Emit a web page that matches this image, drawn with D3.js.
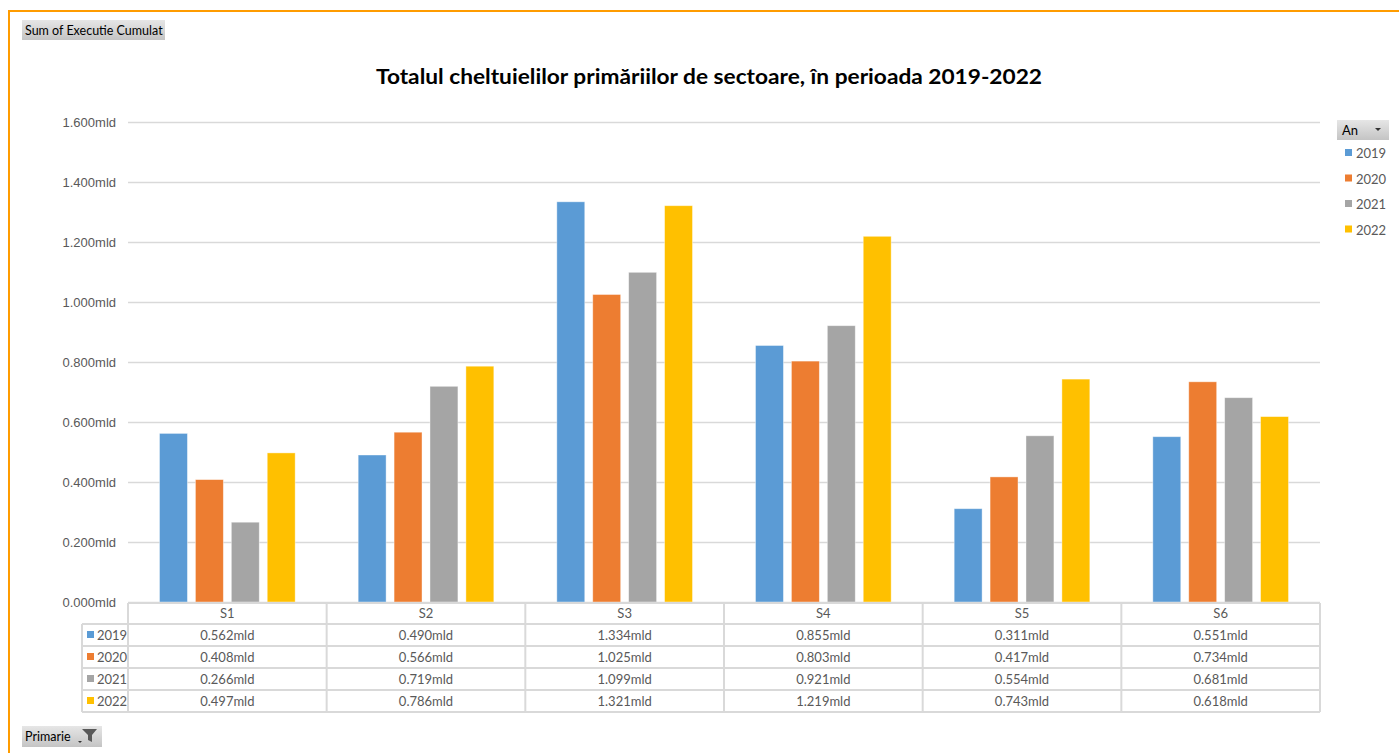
<!DOCTYPE html>
<html>
<head>
<meta charset="utf-8">
<script src="https://cdn.jsdelivr.net/npm/d3@7"></script>
<style>
  body { margin: 0; background: #fff; }
  svg { display: block; font-family: Lato, "Open Sans", sans-serif; }
</style>
</head>
<body>
<svg width="1399" height="753"></svg>
<script>
const svg = d3.select('svg');

// the data
const sectors = ['S1', 'S2', 'S3', 'S4', 'S5', 'S6'];
const years = ['2019', '2020', '2021', '2022'];
const colors = ['#5b9bd5', '#ed7d31', '#a5a5a5', '#ffc000'];
const v2019 = [0.562, 0.490, 1.334, 0.855, 0.311, 0.551];
const v2020 = [0.408, 0.566, 1.025, 0.803, 0.417, 0.734];
const v2021 = [0.266, 0.719, 1.099, 0.921, 0.554, 0.681];
const v2022 = [0.497, 0.786, 1.321, 1.219, 0.743, 0.618];
const yTicks = [0, 0.2, 0.4, 0.6, 0.8, 1.0, 1.2, 1.4, 1.6];

const series = [v2019, v2020, v2021, v2022];
const fmt = d => d3.format('.3f')(d) + 'mld';
const textCol = '#595959';
const lineCol = '#d9d9d9';

// plot area
const plotL = 128, plotR = 1320, plotT = 122, base = 602;

const x0 = d3.scaleBand().domain(sectors).range([plotL, plotR]).paddingInner(0).paddingOuter(0);
const x1 = d3.scaleBand().domain(years).range([31.5, x0.bandwidth() - 31.5]).paddingInner(8 / 36).paddingOuter(0);
const y = d3.scaleLinear().domain([0, 1.6]).range([base, plotT]);

// gradient for the pivot buttons
const defs = svg.append('defs');
const grad = defs.append('linearGradient').attr('id', 'btn').attr('x1', 0).attr('y1', 0).attr('x2', 0).attr('y2', 1);
grad.append('stop').attr('offset', 0).attr('stop-color', '#e6e6e6');
grad.append('stop').attr('offset', 1).attr('stop-color', '#c4c4c4');

// orange frame
svg.append('path')
  .attr('d', 'M9,753 V11 H1399')
  .attr('fill', 'none')
  .attr('stroke', '#ff9c00')
  .attr('stroke-width', 2);

// title
svg.append('text')
  .attr('x', 709)
  .attr('y', 84)
  .attr('text-anchor', 'middle')
  .attr('font-size', 21)
  .attr('font-weight', 'bold')
  .attr('fill', '#000')
  .attr('textLength', 666)
  .attr('lengthAdjust', 'spacingAndGlyphs')
  .text('Totalul cheltuielilor primăriilor de sectoare, în perioada 2019-2022');

// gridlines + y labels
const yAxis = d3.axisLeft(y).tickValues(yTicks).tickFormat(fmt).tickSize(-(plotR - plotL)).tickPadding(12);
const gy = svg.append('g').attr('transform', `translate(${plotL},0)`).call(yAxis);
gy.select('.domain').remove();
gy.selectAll('.tick line').attr('stroke', lineCol).attr('stroke-width', 1.5);
gy.selectAll('.tick text').attr('fill', textCol).attr('font-size', 13);

// bars
const groups = svg.append('g')
  .selectAll('g')
  .data(sectors)
  .join('g')
  .attr('transform', d => `translate(${x0(d)},0)`);

groups.selectAll('rect')
  .data((d, i) => years.map((yr, j) => ({ yr, j, v: series[j][i] })))
  .join('rect')
  .attr('x', d => x1(d.yr))
  .attr('y', d => y(d.v))
  .attr('width', x1.bandwidth())
  .attr('height', d => base - y(d.v))
  .attr('fill', d => colors[d.j])
  .attr('stroke', '#fff')
  .attr('stroke-opacity', 0.5)
  .attr('stroke-width', 0.8);

// data table
const rowH = 22;
const headTop = base + 1;
const headBot = headTop + 21;
const tableBot = headBot + rowH * years.length;
const legL = 82;
const tbl = svg.append('g').attr('stroke', lineCol).attr('stroke-width', 2).attr('fill', 'none');

tbl.append('line').attr('x1', plotL).attr('x2', plotR).attr('y1', headTop).attr('y2', headTop);
years.forEach((yr, j) => {
  tbl.append('line').attr('x1', legL).attr('x2', plotR)
    .attr('y1', headBot + rowH * j).attr('y2', headBot + rowH * j);
});
tbl.append('line').attr('x1', legL).attr('x2', plotR).attr('y1', tableBot).attr('y2', tableBot);
tbl.append('line').attr('x1', legL).attr('x2', legL).attr('y1', headBot).attr('y2', tableBot);
sectors.concat(['end']).forEach(s => {
  const xx = s === 'end' ? plotR : x0(s);
  tbl.append('line').attr('x1', xx).attr('x2', xx).attr('y1', headTop).attr('y2', tableBot);
});

// header labels
svg.append('g')
  .selectAll('text')
  .data(sectors)
  .join('text')
  .attr('x', d => x0(d) + x0.bandwidth() / 2)
  .attr('y', headTop + 15)
  .attr('text-anchor', 'middle')
  .attr('font-size', 13)
  .attr('fill', textCol)
  .text(d => d);

// row legend keys + values
years.forEach((yr, j) => {
  const cy = headBot + rowH * j + rowH / 2;
  svg.append('rect').attr('x', legL + 5).attr('y', cy - 4).attr('width', 7).attr('height', 7).attr('fill', colors[j]);
  svg.append('text').attr('x', legL + 15).attr('y', cy + 4.5)
    .attr('font-size', 13).attr('fill', textCol).text(yr);
  svg.append('g')
    .selectAll('text')
    .data(series[j])
    .join('text')
    .attr('x', (d, i) => x0(sectors[i]) + x0.bandwidth() / 2)
    .attr('y', cy + 4.5)
    .attr('text-anchor', 'middle')
    .attr('font-size', 13)
    .attr('fill', textCol)
    .text(fmt);
});

// legend on the right
const leg = svg.append('g');
leg.append('rect').attr('x', 1337).attr('y', 120).attr('width', 52).attr('height', 20).attr('fill', 'url(#btn)');
leg.append('text').attr('x', 1342).attr('y', 135).attr('font-size', 13).attr('fill', '#000').text('An');
leg.append('path').attr('d', 'M1375,128 h6 l-3,3 z').attr('fill', '#333');
years.forEach((yr, j) => {
  const cy = 153 + j * 25.5;
  leg.append('rect').attr('x', 1345).attr('y', cy - 4).attr('width', 7).attr('height', 7).attr('fill', colors[j]);
  leg.append('text').attr('x', 1356).attr('y', cy + 5).attr('font-size', 13).attr('fill', textCol).text(yr);
});

// pivot field buttons
const b1 = svg.append('g');
b1.append('rect').attr('x', 22).attr('y', 20).attr('width', 143).attr('height', 20).attr('fill', 'url(#btn)');
b1.append('text').attr('x', 25).attr('y', 35).attr('font-size', 12.5).attr('fill', '#000').text('Sum of Executie Cumulat');

const b2 = svg.append('g');
b2.append('rect').attr('x', 22).attr('y', 726).attr('width', 80).attr('height', 21).attr('fill', 'url(#btn)');
b2.append('text').attr('x', 25).attr('y', 741).attr('font-size', 12.5).attr('fill', '#000').text('Primarie');
b2.append('path').attr('d', 'M78,741 h4 l-2,2 z').attr('fill', '#333');
b2.append('path').attr('d', 'M82,729 h15 l-5,6 v7 l-4,-2 v-5 z').attr('fill', '#595959');
</script>
</body>
</html>
